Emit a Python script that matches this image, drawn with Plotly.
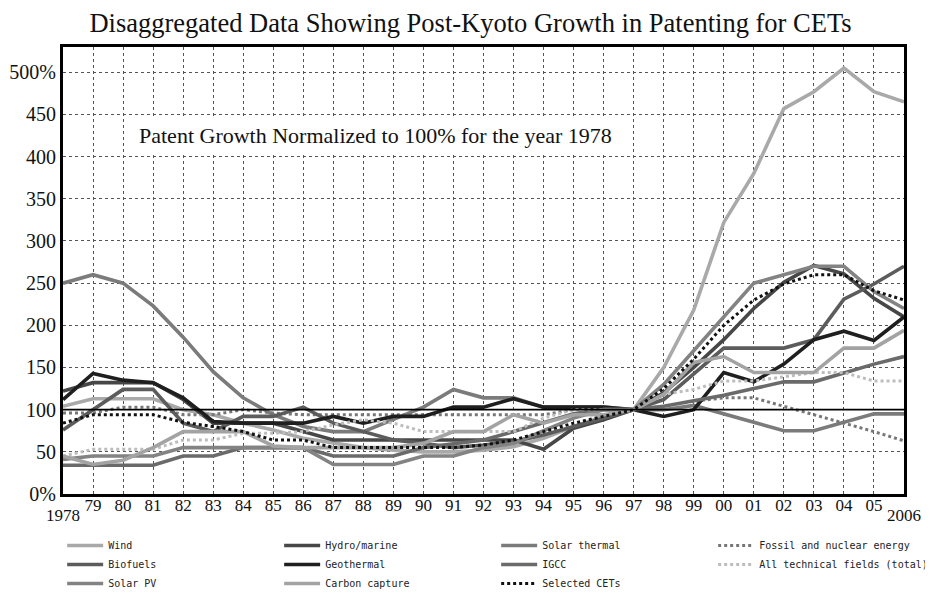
import plotly.graph_objects as go

years = list(range(1978, 2007))

wind = [104, 113, 113, 113, 100, 94, 84, 76, 66, 60,
        55, 52, 50, 50, 52, 56, 66, 80, 92, 100,
        150, 218, 322, 380, 457, 477, 505, 477, 465]
hydro = [122, 132, 132, 132, 112, 84, 84, 84, 74, 64,
         64, 64, 64, 64, 64, 64, 53, 78, 88, 100,
         120, 150, 183, 220, 251, 271, 261, 232, 210]
solar_thermal = [250, 260, 250, 223, 186, 145, 114, 94, 80, 74,
                 74, 88, 103, 124, 114, 114, 103, 103, 103, 100,
                 100, 105, 95, 85, 75, 75, 85, 95, 95]
fossil = [96, 96, 103, 103, 94, 94, 100, 96, 94, 94,
          94, 94, 94, 94, 94, 94, 94, 100, 100, 100,
          104, 110, 114, 114, 104, 94, 84, 74, 63]
biofuels = [76, 100, 124, 124, 84, 74, 92, 92, 103, 84,
            74, 64, 60, 55, 58, 62, 70, 80, 90, 100,
            112, 143, 173, 173, 173, 183, 231, 249, 270]
geothermal = [112, 143, 135, 132, 114, 86, 84, 84, 84, 92,
              84, 92, 92, 103, 103, 113, 103, 103, 103, 100,
              92, 100, 144, 133, 154, 183, 193, 182, 210]
igcc = [34, 34, 34, 34, 45, 45, 55, 55, 55, 45,
        45, 45, 55, 60, 64, 74, 85, 95, 100, 100,
        104, 110, 117, 125, 133, 133, 144, 154, 163]
all_tech = [45, 53, 53, 53, 64, 64, 72, 72, 74, 82,
            88, 84, 74, 74, 74, 74, 90, 100, 100, 100,
            118, 124, 134, 134, 139, 144, 144, 134, 134]
solar_pv = [41, 45, 45, 45, 55, 55, 55, 55, 55, 35,
            35, 35, 45, 45, 55, 60, 75, 90, 100, 100,
            130, 170, 210, 250, 260, 270, 270, 240, 220]
carbon = [45, 35, 40, 55, 74, 74, 74, 57, 55, 55,
          55, 55, 60, 74, 74, 94, 84, 94, 94, 100,
          118, 156, 163, 144, 144, 144, 173, 173, 194]
selected = [84, 94, 94, 94, 85, 80, 74, 64, 64, 55,
            55, 55, 55, 55, 58, 64, 74, 84, 92, 100,
            125, 160, 200, 230, 249, 260, 260, 241, 230]

series_names = ["Wind", "Hydro/marine", "Solar thermal", "Fossil and nuclear energy",
                "Biofuels", "Geothermal", "IGCC", "All technical fields (total)",
                "Solar PV", "Carbon capture", "Selected CETs"]
series_values = [wind, hydro, solar_thermal, fossil, biofuels, geothermal, igcc,
                 all_tech, solar_pv, carbon, selected]
series_colors = ["#a9a9a9", "#474747", "#7b7b7b", "#777777", "#5c5c5c", "#1f1f1f",
                 "#6a6a6a", "#bdbdbd", "#838383", "#a3a3a3", "#111111"]
series_dash = ["solid", "solid", "solid", "dot", "solid", "solid", "solid",
               "dot", "solid", "solid", "dot"]

ytick_vals = list(range(0, 501, 50))
ytick_text = ["0%", "50", "100", "150", "200", "250", "300", "350", "400", "450", "500%"]
xtick_vals = list(range(1979, 2006))
xtick_text = ["79", "80", "81", "82", "83", "84", "85", "86", "87", "88", "89", "90",
              "91", "92", "93", "94", "95", "96", "97", "98", "99", "00", "01", "02",
              "03", "04", "05"]
baseline = 100

title_text = "Disaggregated Data Showing Post-Kyoto Growth in Patenting for CETs"
subtitle_text = "Patent Growth Normalized to 100% for the year 1978"

serif = "Liberation Serif, Times New Roman, serif"

fig = go.Figure()
for name, vals, col, dash in zip(series_names, series_values, series_colors, series_dash):
    fig.add_trace(go.Scatter(
        x=years, y=vals, name=name, mode="lines",
        line=dict(color=col, width=3.6 if dash == "solid" else 3, dash=dash),
    ))

fig.add_shape(type="line", xref="paper", x0=0, x1=1, yref="y", y0=baseline, y1=baseline,
              line=dict(color="black", width=1.6), layer="above")

fig.add_annotation(x=years[0], y=0, xref="x", yref="paper", text=str(years[0]),
                   showarrow=False, yanchor="top", yshift=-10,
                   font=dict(family=serif, size=17, color="#111"))
fig.add_annotation(x=years[-1], y=0, xref="x", yref="paper", text=str(years[-1]),
                   showarrow=False, yanchor="top", yshift=-10,
                   font=dict(family=serif, size=17, color="#111"))
fig.add_annotation(x=0.085, y=0.803, xref="paper", yref="paper", text=subtitle_text,
                   showarrow=False, xanchor="left", yanchor="middle",
                   bgcolor="white", borderpad=4,
                   font=dict(family=serif, size=22, color="#111"))

fig.update_layout(
    width=925, height=585,
    margin=dict(l=55, r=29, t=39, b=99, autoexpand=False),
    paper_bgcolor="white", plot_bgcolor="white",
    title=dict(text=title_text, x=0.5, xanchor="center", yref="container", y=0.9745,
               yanchor="middle",
               font=dict(family=serif, size=26.5, color="#111")),
    showlegend=True,
    legend=dict(orientation="h", x=-0.001, xanchor="left", y=-0.2327, yanchor="bottom",
                entrywidth=166, entrywidthmode="pixels", itemwidth=36,
                font=dict(family="DejaVu Sans Mono, monospace", size=10, color="#222"),
                bgcolor="rgba(0,0,0,0)", traceorder="normal"),
    xaxis=dict(range=[years[0], years[-1]], tickvals=xtick_vals, ticktext=xtick_text,
               showgrid=True, gridcolor="#555", griddash="dot", gridwidth=1,
               showline=True, linecolor="black", linewidth=3, mirror=True,
               ticks="", zeroline=False, automargin=False, ticklabelstandoff=-6,
               tickfont=dict(family=serif, size=17, color="#111")),
    yaxis=dict(range=[0, 530], tickvals=ytick_vals, ticktext=ytick_text,
               showgrid=True, gridcolor="#555", griddash="dot", gridwidth=1,
               showline=True, linecolor="black", linewidth=3, mirror=True,
               ticks="", zeroline=False, automargin=False,
               tickfont=dict(family=serif, size=20, color="#111")),
)

fig.write_html("out.html")
